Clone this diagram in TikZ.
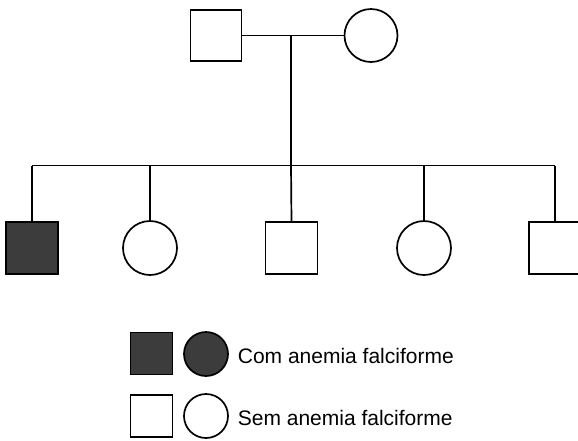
\documentclass[tikz,border=0pt]{standalone}
\usepackage{fontspec}
\setmainfont{Liberation Sans}
\definecolor{affected}{HTML}{3C3C3C}
\begin{document}
\begin{tikzpicture}[x=1pt,y=-1pt,
  line width=1.7pt,
  male/.style={draw, rectangle, minimum size=52pt, inner sep=0pt},
  female/.style={draw, circle, minimum size=54pt, inner sep=0pt},
  lmale/.style={draw, rectangle, minimum size=42pt, inner sep=0pt},
  lfemale/.style={draw, circle, minimum size=44pt, inner sep=0pt},
  aff/.style={fill=affected},
  label text/.style={anchor=west, inner sep=0pt, font=\fontsize{21}{24}\selectfont}
]
\clip (0,0) rectangle (578,440);
% parents
\node[male, minimum size=51pt] (father) at (216,35.5) {};
\node[female, minimum size=53pt] (mother) at (371,35.5) {};
\coordinate (mid) at (291,35.5);
\coordinate (sib) at (291,165.5);
\draw (father.east) -- (mother.west);
\draw (mid) -- (sib);
% children
\node[male, aff] (c1) at (32,248) {};
\node[female] (c2) at (150,248) {};
\node[male] (c3) at (291.5,248) {};
\node[female] (c4) at (424,248) {};
\node[male] (c5) at (555,248) {};
\coordinate (j1) at (32,165.5);
\coordinate (j2) at (150,165.5);
\coordinate (j3) at (291,165.5);
\coordinate (j4) at (424,165.5);
\coordinate (j5) at (555,165.5);
\draw (j1) -- (j5);
\draw (j1) -- (c1.north);
\draw (j2) -- (c2.north);
\draw (j3) -- (c3.north);
\draw (j4) -- (c4.north);
\draw (j5) -- (c5.north);
% legend
\node[lmale, aff] (l1s) at (151.5,353.5) {};
\node[lfemale, aff] (l1c) at (206,354) {};
\node[label text] (l1t) at (237,356) {Com anemia falciforme};
\node[lmale] (l2s) at (151.5,416) {};
\node[lfemale] (l2c) at (206,416) {};
\node[label text] (l2t) at (237,418) {Sem anemia falciforme};
\end{tikzpicture}
\end{document}
